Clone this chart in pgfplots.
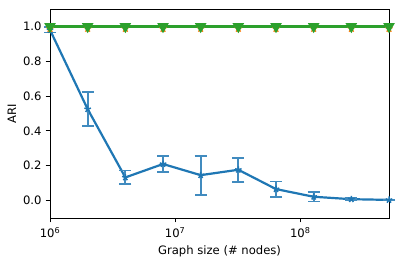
\documentclass[border=0pt]{standalone}
\usepackage{pgfplots}
\pgfplotsset{compat=1.18}
\usepackage{fontspec}
\setmainfont{DejaVu Sans}
\definecolor{mplblue}{HTML}{1F77B4}
\definecolor{mplorange}{HTML}{FF7F0E}
\definecolor{mplgreen}{HTML}{2CA02C}
\begin{document}
\fontsize{11.6}{14}\selectfont
\begin{tikzpicture}
\begin{axis}[
  at={(0pt,0pt)}, anchor=south west,
  scale only axis, width=339pt, height=209pt,
  xmode=log, log basis x=10,
  xmin=1e6, xmax=5.12e8,
  ymin=-0.1, ymax=1.1,
  xtick={1e6,1e7,1e8},
  xticklabels={10\textsuperscript{6},10\textsuperscript{7},10\textsuperscript{8}},
  ytick={0,0.2,0.4,0.6,0.8,1.0},
  yticklabels={0.0,0.2,0.4,0.6,0.8,1.0},
  tick pos=left, tick align=outside,
  major tick length=4.4pt, minor tick length=2.5pt,
  every tick/.style={black, line width=1pt},
  every minor tick/.style={black, line width=0.8pt},
  axis line style={line width=1pt},
  ticklabel style={font=\fontsize{11.6}{14}\selectfont},
  xticklabel style={yshift=-1pt},
  xlabel={Graph size (\# nodes)}, ylabel={ARI},
  label style={font=\fontsize{11.6}{14}\selectfont},
  xlabel style={yshift=0pt},
  ylabel style={yshift=-1pt},
  clip=false,
]
\addplot[mplblue, line width=2.2pt, mark=star, mark size=3.4pt, mark options={solid, line width=1.5pt},
  error bars/.cd, y dir=both, y explicit,
  error bar style={line width=1.8pt, mplblue!85!white},
  error mark options={rotate=90, mark size=6pt, line width=1.8pt, mplblue!85!white}]
coordinates {
(1e6,0.98) +- (0,0.015)
(2e6,0.525) +- (0,0.098)
(4e6,0.133) +- (0,0.04)
(8e6,0.21) +- (0,0.044)
(1.6e7,0.146) +- (0,0.112)
(3.2e7,0.177) +- (0,0.069)
(6.4e7,0.066) +- (0,0.044)
(1.28e8,0.022) +- (0,0.027)
(2.56e8,0.008) +- (0,0.006)
(5.12e8,0.004) +- (0,0.002)
};
\addplot[mplorange, line width=2.2pt, mark=star, mark size=3.8pt, mark options={solid, line width=1.4pt, yshift=-2.2pt}]
coordinates {
(1e6,1) (2e6,1) (4e6,1) (8e6,1) (1.6e7,1) (3.2e7,1) (6.4e7,1) (1.28e8,1) (2.56e8,1) (5.12e8,1)
};
\addplot[mplgreen, line width=2.2pt, mark=triangle*, mark size=4.6pt, mark options={solid, rotate=180, fill=mplgreen}]
coordinates {
(1e6,1) (2e6,1) (4e6,1) (8e6,1) (1.6e7,1) (3.2e7,1) (6.4e7,1) (1.28e8,1) (2.56e8,1) (5.12e8,1)
};
\end{axis}
\pgfresetboundingbox
\path[use as bounding box] (-50pt,-48pt) rectangle (349pt,218pt);
\end{tikzpicture}
\end{document}
